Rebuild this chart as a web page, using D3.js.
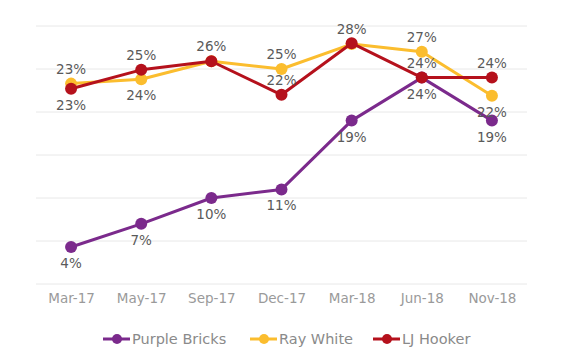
<!DOCTYPE html>
<html><head><meta charset="utf-8">
<script src="https://cdn.jsdelivr.net/npm/d3@7"></script>
<style>body{margin:0;background:#fff}svg{display:block}text{font-family:"DejaVu Sans",sans-serif}</style>
</head><body>
<script>
const categories = ["Mar-17","May-17","Sep-17","Dec-17","Mar-18","Jun-18","Nov-18"];
const purpleBricks = [4.3, 7.0, 10.0, 11.0, 19.0, 24.0, 19.0];
const rayWhite = [23.3, 23.8, 25.9, 25.0, 27.9, 27.0, 21.9];
const ljHooker = [22.7, 24.9, 25.9, 22.0, 28.0, 24.0, 24.0];
const purpleLabels = ["4%","7%","10%","11%","19%","24%","19%"];
const rayLabels = ["23%","24%","26%","25%","28%","27%","22%"];
const ljLabels = ["23%","25%","","22%","","24%","24%"];
const yTicks = [0,5,10,15,20,25,30];

const series = [
  {name:"Purple Bricks", values:purpleBricks, labels:purpleLabels, color:"#7b2a8c", place:["b","b","b","b","b","b","b"]},
  {name:"Ray White", values:rayWhite, labels:rayLabels, color:"#fbbd2e", place:["a","b","a","a","a","a","b"]},
  {name:"LJ Hooker", values:ljHooker, labels:ljLabels, color:"#b5111c", place:["b","a","a","a","a","a","a"]}
];

const W=580,H=352;
const svg=d3.select("body").append("svg").attr("width",W).attr("height",H);
const x=d3.scalePoint().domain(categories).range([36,527]).padding(0.5);
const y=d3.scaleLinear().domain([0,30]).range([284,26]);

svg.append("g").selectAll("line").data(yTicks).join("line")
  .attr("x1",36).attr("x2",527).attr("y1",d=>y(d)).attr("y2",d=>y(d))
  .attr("stroke","#e8e8e8").attr("stroke-width",1);

const xa=svg.append("g").attr("transform","translate(0,284)")
  .call(d3.axisBottom(x).tickSize(0).tickPadding(9));
xa.select(".domain").remove();
xa.selectAll("text").attr("fill","#9a9a9a").style("font-size","13.5px").style("font-family","'DejaVu Sans',sans-serif");

const line=d3.line().x((d,i)=>x(categories[i])).y(d=>y(d));
series.forEach(s=>{
  svg.append("path").datum(s.values).attr("d",line).attr("fill","none")
    .attr("stroke",s.color).attr("stroke-width",3).attr("stroke-linejoin","round");
  svg.append("g").selectAll("circle").data(s.values).join("circle")
    .attr("cx",(d,i)=>x(categories[i])).attr("cy",d=>y(d)).attr("r",6).attr("fill",s.color);
});
series.forEach(s=>{
  svg.append("g").selectAll("text").data(s.values).join("text")
    .attr("x",(d,i)=>x(categories[i]))
    .attr("y",(d,i)=>s.place[i]==="a"? y(d)-10 : y(d)+21)
    .attr("text-anchor","middle").attr("fill","#5a5a5a").style("font-size","13.5px")
    .text((d,i)=>s.labels[i]);
});

const legendX=[103,250,373];
const lg=svg.append("g").attr("transform","translate(0,339)");
series.forEach((s,i)=>{
  const g=lg.append("g").attr("transform",`translate(${legendX[i]},0)`);
  g.append("line").attr("x1",0).attr("x2",27).attr("y1",0).attr("y2",0).attr("stroke",s.color).attr("stroke-width",3);
  g.append("circle").attr("cx",14).attr("cy",0).attr("r",5).attr("fill",s.color);
  g.append("text").attr("x",29).attr("y",5).attr("fill","#8a8a8a").style("font-size","14.5px").text(s.name);
});
</script>
</body></html>
